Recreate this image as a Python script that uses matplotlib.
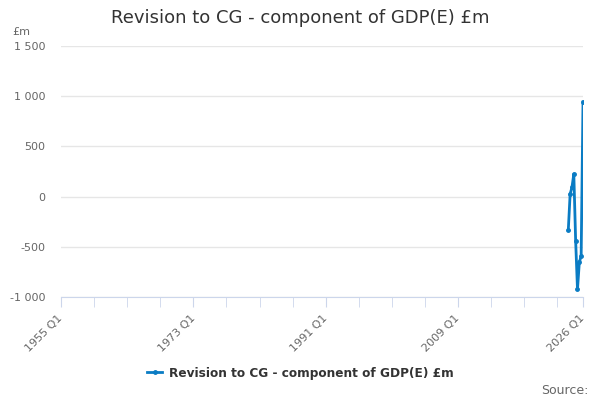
import numpy as np
import matplotlib
matplotlib.use('Agg')
import matplotlib.pyplot as plt

# quarters covered by the axis
start_year = 1955
end_year = 2026
all_quarters = [f"{y} Q{q}" for y in range(start_year, end_year + 1) for q in range(1, 5)]
all_quarters = all_quarters[:all_quarters.index("2026 Q1") + 1]

series_quarters = ["2024 Q1", "2024 Q2", "2024 Q3", "2024 Q4", "2025 Q1",
                   "2025 Q2", "2025 Q3", "2025 Q4", "2026 Q1"]
series_values = [-333, 26, 93, 225, -439, -925, -655, -590, 942]

tick_labels = ["1955 Q1", "1973 Q1", "1991 Q1", "2009 Q1", "2026 Q1"]
y_ticks = [-1000, -500, 0, 500, 1000, 1500]

line_color = '#0a7cc4'
grid_color = '#e6e6e6'
axis_color = '#ccd6eb'
text_color = '#666666'

x = [all_quarters.index(q) for q in series_quarters]

fig = plt.figure(figsize=(6, 4), dpi=100)
ax = fig.add_axes([61 / 600, 1 - 297 / 400, 522 / 600, 251 / 400])

ax.plot(x, series_values, color=line_color, lw=2, marker='o', ms=2.5,
        label='Revision to CG - component of GDP(E) £m')

ax.set_xlim(0, len(all_quarters) - 1)
ax.set_ylim(-1000, 1500)
ax.set_yticks(y_ticks)
ax.set_yticklabels([f"{v:,}".replace(",", " ") for v in y_ticks])
ax.yaxis.grid(True, color=grid_color, lw=1)
ax.set_axisbelow(True)

major = [all_quarters.index(t) for t in tick_labels]
minor = list(range(0, len(all_quarters), 18)) + [len(all_quarters) - 1]
ax.set_xticks(major)
ax.set_xticklabels(tick_labels, rotation=45, ha='right', va='center', rotation_mode='anchor')
ax.set_xticks(minor, minor=True)
ax.tick_params(axis='x', which='both', length=7, color=axis_color, labelsize=8,
               labelcolor=text_color, pad=7)
ax.tick_params(axis='y', length=0, labelsize=8, labelcolor=text_color, pad=11.5)

for s in ['top', 'right', 'left']:
    ax.spines[s].set_visible(False)
ax.spines['bottom'].set_color(axis_color)

fig.text(300 / 600, 1 - 18 / 400, 'Revision to CG - component of GDP(E) £m',
         ha='center', va='center', fontsize=13, color='#333333')
fig.text(12 / 600, 1 - 32 / 400, '£m', ha='left', va='center', fontsize=8, color=text_color)
fig.text(589 / 600, 1 - 390 / 400, 'Source:', ha='right', va='center', fontsize=9, color=text_color)

leg = fig.legend(loc='center', bbox_to_anchor=(300 / 600, 1 - 373 / 400), frameon=False,
                 handlelength=1.3, handletextpad=0.5, fontsize=8.7)
for t in leg.get_texts():
    t.set_fontweight('bold')
    t.set_color('#333333')

fig.savefig('out.png', dpi=100)
